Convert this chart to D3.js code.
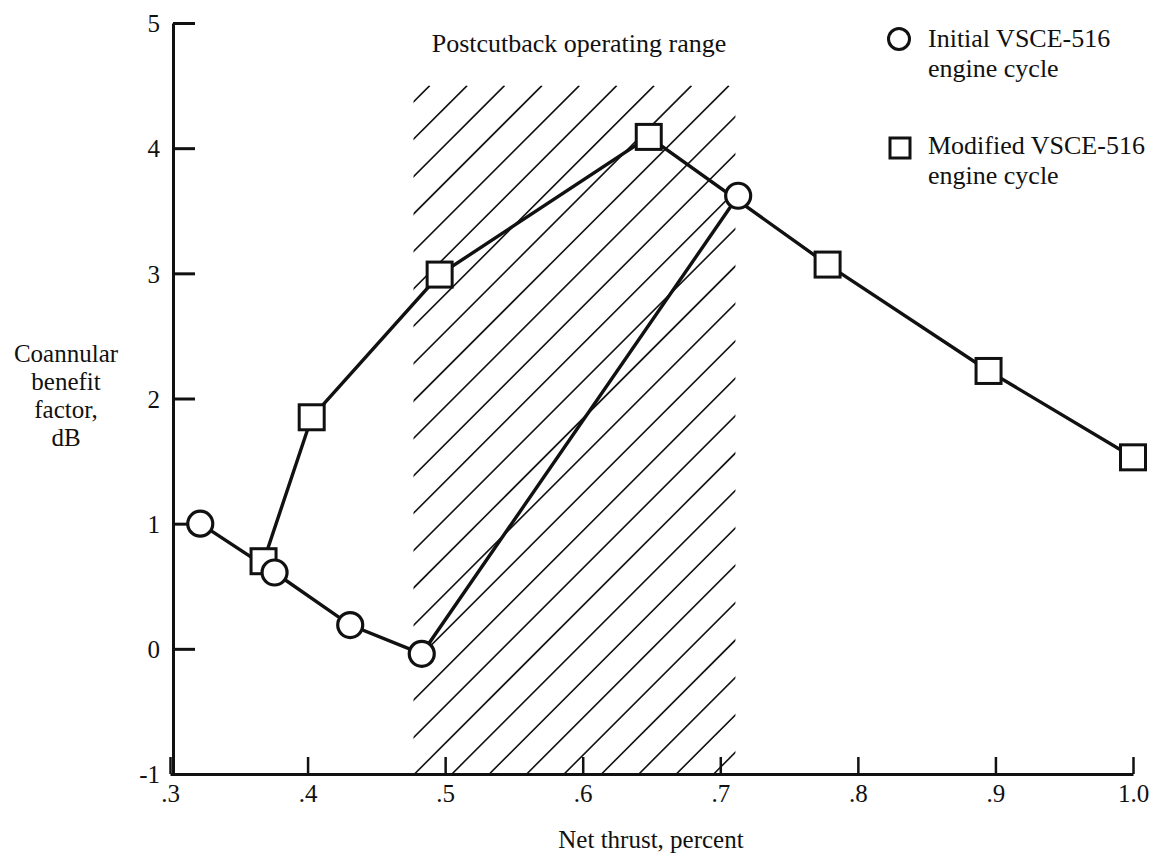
<!DOCTYPE html>
<html>
<head>
<meta charset="utf-8">
<script src="https://cdn.jsdelivr.net/npm/d3@7"></script>
<style>
  html, body { margin: 0; padding: 0; background: #fff; }
  svg { display: block; }
  text { font-family: "Liberation Serif", "DejaVu Serif", serif; fill: #111; }
</style>
</head>
<body>
<svg id="chart" width="1161" height="861"></svg>
<script>
// Net thrust (fraction) and coannular benefit factor (dB)
const initialThrust  = [0.322, 0.376, 0.431, 0.483, 0.713];
const initialBenefit = [1.00, 0.61, 0.19, -0.04, 3.62];

const modifiedThrust  = [0.368, 0.403, 0.496, 0.648, 0.778, 0.895, 1.0];
const modifiedBenefit = [0.70, 1.85, 2.99, 4.09, 3.07, 2.22, 1.53];

// Postcutback operating range (thrust span, benefit ceiling)
const rangeThrust = [0.477, 0.711];
const rangeTop = 4.5;

const xTickValues = [0.3, 0.4, 0.5, 0.6, 0.7, 0.8, 0.9, 1.0];
const xTickLabels = [".3", ".4", ".5", ".6", ".7", ".8", ".9", "1.0"];
const yTickValues = [-1, 0, 1, 2, 3, 4, 5];
const yTickLabels = ["-1", "0", "1", "2", "3", "4", "5"];

const legendLabels = [
  ["Initial VSCE-516", "engine cycle"],
  ["Modified VSCE-516", "engine cycle"]
];
const yTitleLines = ["Coannular", "benefit", "factor,", "dB"];
const xTitle = "Net thrust, percent";
const rangeTitle = "Postcutback operating range";

const svg = d3.select("#chart");

const x = d3.scaleLinear().domain([0.3, 1.0]).range([170, 1133]);
const y = d3.scaleLinear().domain([-1, 5]).range([774, 23]);

// hatched operating range
const defs = svg.append("defs");
const hx0 = x(rangeThrust[0]), hx1 = x(rangeThrust[1]);
const hy0 = y(rangeTop), hy1 = y(-1);
defs.append("clipPath").attr("id", "rangeClip")
  .append("rect")
  .attr("x", hx0).attr("y", hy0)
  .attr("width", hx1 - hx0).attr("height", hy1 - hy0);

const hatch = svg.append("g").attr("clip-path", "url(#rangeClip)");
const spacing = 37.4;
const hatchOffsets = d3.range(-Math.ceil((hy1 - hy0) / spacing) - 1, Math.ceil((hx1 - hx0) / spacing) + 2);
hatch.selectAll("line").data(hatchOffsets).join("line")
  .attr("x1", k => hx0 + 1 + k * spacing)
  .attr("y1", hy1)
  .attr("x2", k => hx0 + 1 + k * spacing + (hy1 - hy0))
  .attr("y2", hy0)
  .attr("stroke", "#111").attr("stroke-width", 1.6);

svg.append("text")
  .attr("x", 579).attr("y", 52)
  .attr("text-anchor", "middle")
  .attr("font-size", 26)
  .text(rangeTitle);

// axes
const yAxis = d3.axisLeft(y)
  .tickValues(yTickValues)
  .tickFormat((d, i) => yTickLabels[i])
  .tickSizeInner(-22).tickSizeOuter(0).tickPadding(13);
const gy = svg.append("g").attr("transform", `translate(${x(0.3) + 3},0)`).call(yAxis);
gy.select(".domain").attr("stroke", "#111").attr("stroke-width", 3);
gy.selectAll(".tick line").attr("stroke", "#111").attr("stroke-width", 3);
gy.selectAll(".tick text").attr("font-size", 25).attr("dy", "0.35em");

const xAxis = d3.axisBottom(x)
  .tickValues(xTickValues)
  .tickFormat((d, i) => xTickLabels[i])
  .tickSizeInner(-17).tickSizeOuter(0).tickPadding(10);
const gx = svg.append("g").attr("transform", `translate(0,${y(-1)})`).call(xAxis);
gx.select(".domain").attr("stroke", "#111").attr("stroke-width", 3);
gx.selectAll(".tick line").attr("stroke", "#111").attr("stroke-width", 2.5);
gx.selectAll(".tick text").attr("font-size", 25);

// axis titles
svg.append("g").selectAll("text").data(yTitleLines).join("text")
  .attr("x", 66).attr("y", (d, i) => 362 + i * 28)
  .attr("text-anchor", "middle")
  .attr("font-size", 25)
  .text(d => d);

svg.append("text")
  .attr("x", 651).attr("y", 848)
  .attr("text-anchor", "middle")
  .attr("font-size", 25)
  .text(xTitle);

// series lines
const line = d3.line().x(d => x(d[0])).y(d => y(d[1]));
const initialPts = initialThrust.map((t, i) => [t, initialBenefit[i]]);
const modifiedPts = modifiedThrust.map((t, i) => [t, modifiedBenefit[i]]);

svg.append("path").datum(initialPts).attr("d", line)
  .attr("fill", "none").attr("stroke", "#111").attr("stroke-width", 3.4);
svg.append("path").datum(modifiedPts).attr("d", line)
  .attr("fill", "none").attr("stroke", "#111").attr("stroke-width", 3.4);

// markers
const sq = 25;
svg.append("g").selectAll("rect").data(modifiedPts).join("rect")
  .attr("x", d => x(d[0]) - sq / 2).attr("y", d => y(d[1]) - sq / 2)
  .attr("width", sq).attr("height", sq)
  .attr("fill", "#fff").attr("stroke", "#111").attr("stroke-width", 3);

svg.append("g").selectAll("circle").data(initialPts).join("circle")
  .attr("cx", d => x(d[0])).attr("cy", d => y(d[1]))
  .attr("r", 12.5)
  .attr("fill", "#fff").attr("stroke", "#111").attr("stroke-width", 3.2);

// legend
const legend = svg.append("g");
legend.append("circle").attr("cx", 899).attr("cy", 39).attr("r", 10.5)
  .attr("fill", "#fff").attr("stroke", "#111").attr("stroke-width", 3);
legend.append("rect").attr("x", 890).attr("y", 138).attr("width", 20).attr("height", 20)
  .attr("fill", "#fff").attr("stroke", "#111").attr("stroke-width", 3);
legendLabels.forEach((lines, i) => {
  legend.selectAll(null).data(lines).join("text")
    .attr("x", 928)
    .attr("y", (d, j) => 47 + i * 107 + j * 30)
    .attr("font-size", 26)
    .text(d => d);
});
</script>
</body>
</html>
